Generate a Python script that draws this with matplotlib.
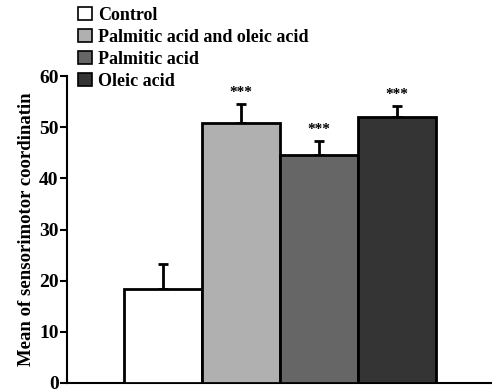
import matplotlib.pyplot as plt
import matplotlib.patches as mpatches

# data
groups = ["Control", "Palmitic acid and oleic acid", "Palmitic acid", "Oleic acid"]
means = [18.4, 50.8, 44.6, 51.9]
errs = [4.8, 3.8, 2.7, 2.3]
stars = ["", "***", "***", "***"]
colors = ["#ffffff", "#b0b0b0", "#666666", "#343434"]

plt.rcParams['font.family'] = ['Liberation Serif', 'DejaVu Serif']
plt.rcParams['font.weight'] = 'bold'

fig = plt.figure(figsize=(4.92, 3.92), dpi=100)
ax = fig.add_axes([0.136, 0.023, 0.864, 0.783])

x = list(range(len(groups)))
ax.bar(x, means, width=1.0, color=colors, edgecolor="black", linewidth=2.0, zorder=3)
ax.errorbar(x, means, yerr=[[0] * len(errs), errs], fmt="none", ecolor="black",
            elinewidth=2.0, capsize=3.6, capthick=2.0, zorder=2)
for xi, m, e, s in zip(x, means, errs, stars):
    if s:
        ax.text(xi, m + e + 1.0, s, ha="center", va="bottom", fontsize=11, fontweight="bold")

ax.set_xlim(-1.23, 4.22)
ax.set_ylim(0, 60)
ax.set_yticks([0, 10, 20, 30, 40, 50, 60])
ax.set_xticks([])
ax.tick_params(axis="y", direction="out", length=5, width=1.5, labelsize=14, pad=1)
for lbl in ax.get_yticklabels():
    lbl.set_fontweight("bold")
ax.spines["top"].set_visible(False)
ax.spines["right"].set_visible(False)
ax.spines["left"].set_linewidth(1.5)
ax.spines["bottom"].set_linewidth(1.5)
ax.set_ylabel("Mean of sensorimotor coordinatin", fontsize=13.5, fontweight="bold", labelpad=3)

handles = [mpatches.Patch(facecolor=c, edgecolor="black", linewidth=1.2) for c in colors]
fig.legend(handles, groups, loc="upper left", bbox_to_anchor=(0.148, 0.997), frameon=False,
           prop={"size": 13, "weight": "bold"}, handlelength=0.75, handleheight=0.75,
           handletextpad=0.35, labelspacing=0.28, borderaxespad=0.1, borderpad=0.2)

fig.savefig("out.png", dpi=100)
